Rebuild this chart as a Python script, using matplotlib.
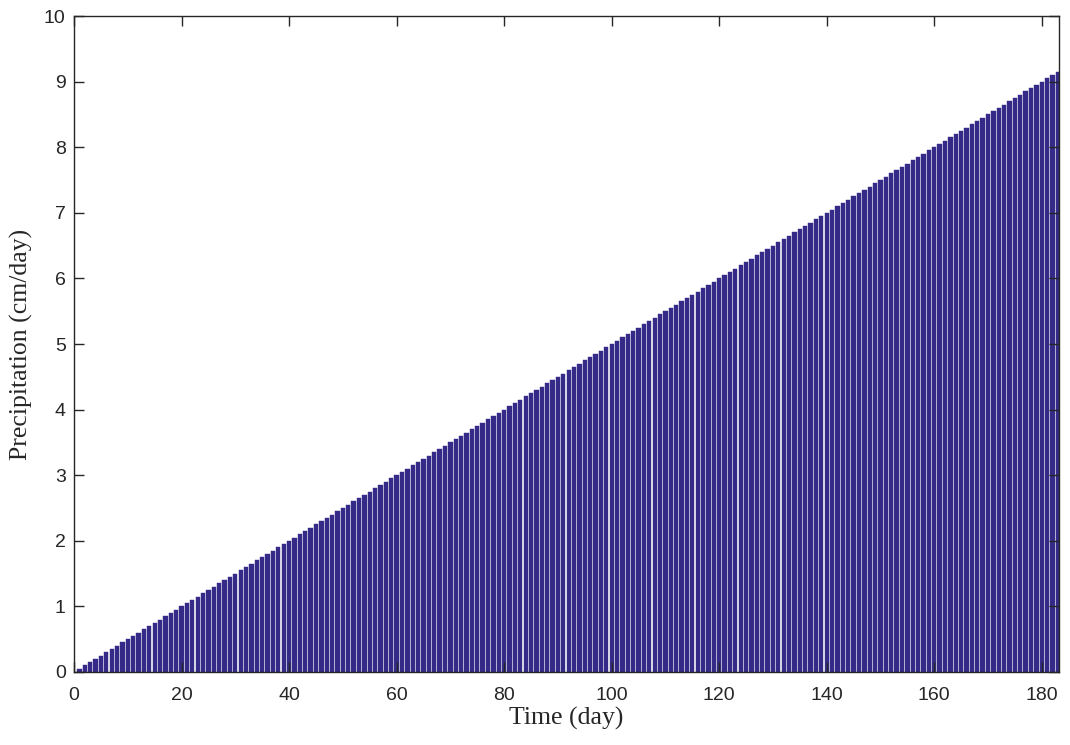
import numpy as np
import matplotlib
matplotlib.use("Agg")
import matplotlib.pyplot as plt

# daily precipitation over the 183-day run (cm/day)
days = np.arange(1, 184)
precip = [
    0.05, 0.10, 0.15, 0.20, 0.25, 0.30, 0.35, 0.40, 0.45, 0.50,
    0.55, 0.60, 0.65, 0.70, 0.75, 0.80, 0.85, 0.90, 0.95, 1.00,
    1.05, 1.10, 1.15, 1.20, 1.25, 1.30, 1.35, 1.40, 1.45, 1.50,
    1.55, 1.60, 1.65, 1.70, 1.75, 1.80, 1.85, 1.90, 1.95, 2.00,
    2.05, 2.10, 2.15, 2.20, 2.25, 2.30, 2.35, 2.40, 2.45, 2.50,
    2.55, 2.60, 2.65, 2.70, 2.75, 2.80, 2.85, 2.90, 2.95, 3.00,
    3.05, 3.10, 3.15, 3.20, 3.25, 3.30, 3.35, 3.40, 3.45, 3.50,
    3.55, 3.60, 3.65, 3.70, 3.75, 3.80, 3.85, 3.90, 3.95, 4.00,
    4.05, 4.10, 4.15, 4.20, 4.25, 4.30, 4.35, 4.40, 4.45, 4.50,
    4.55, 4.60, 4.65, 4.70, 4.75, 4.80, 4.85, 4.90, 4.95, 5.00,
    5.05, 5.10, 5.15, 5.20, 5.25, 5.30, 5.35, 5.40, 5.45, 5.50,
    5.55, 5.60, 5.65, 5.70, 5.75, 5.80, 5.85, 5.90, 5.95, 6.00,
    6.05, 6.10, 6.15, 6.20, 6.25, 6.30, 6.35, 6.40, 6.45, 6.50,
    6.55, 6.60, 6.65, 6.70, 6.75, 6.80, 6.85, 6.90, 6.95, 7.00,
    7.05, 7.10, 7.15, 7.20, 7.25, 7.30, 7.35, 7.40, 7.45, 7.50,
    7.55, 7.60, 7.65, 7.70, 7.75, 7.80, 7.85, 7.90, 7.95, 8.00,
    8.05, 8.10, 8.15, 8.20, 8.25, 8.30, 8.35, 8.40, 8.45, 8.50,
    8.55, 8.60, 8.65, 8.70, 8.75, 8.80, 8.85, 8.90, 8.95, 9.00,
    9.05, 9.10, 9.15,
]
xticks = [0, 20, 40, 60, 80, 100, 120, 140, 160, 180]
yticks = [0, 1, 2, 3, 4, 5, 6, 7, 8, 9, 10]

fig = plt.figure(figsize=(10.7, 7.45), dpi=100)
ax = fig.add_axes([0.0692, 0.098, 0.9205, 0.8805])

ax.bar(days, precip, width=0.8, color="#352a87", edgecolor="#352a87",
       linewidth=0.3)

ax.set_xlim(0, 183.2)
ax.set_ylim(0, 10)
ax.set_xticks(xticks)
ax.set_yticks(yticks)

axcol = "#262626"
for sp in ax.spines.values():
    sp.set_color(axcol)
    sp.set_linewidth(1.0)
ax.tick_params(direction="in", length=7, width=1.0, color=axcol,
               top=True, right=True, labelsize=14, labelcolor=axcol)
ax.tick_params(axis="x", pad=11)
ax.tick_params(axis="y", pad=6)
for lab in ax.get_xticklabels() + ax.get_yticklabels():
    lab.set_fontfamily("Liberation Sans")

ax.set_xlabel("Time (day)", family="Liberation Serif", fontsize=18.5,
              color=axcol, labelpad=2)
ax.set_ylabel("Precipitation (cm/day)", family="Liberation Serif",
              fontsize=18.5, color=axcol, labelpad=8)

fig.savefig("out.png", dpi=100)
